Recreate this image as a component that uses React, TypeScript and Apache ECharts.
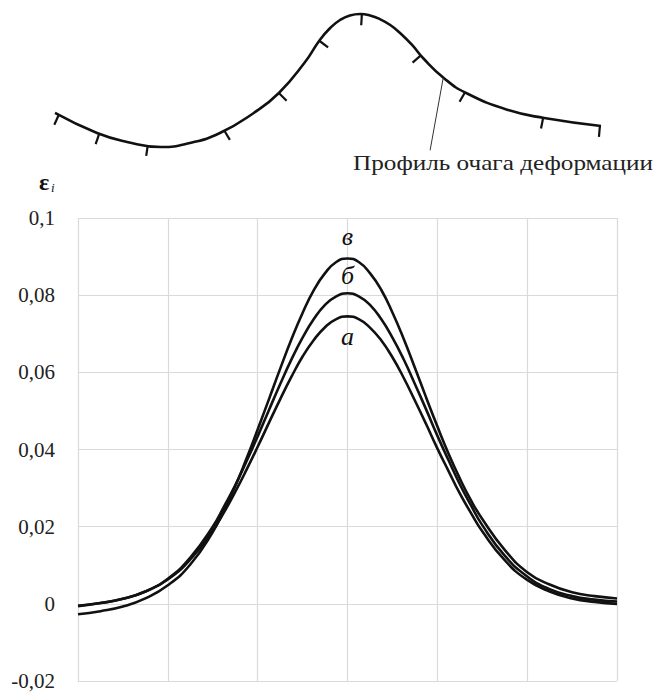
import React, { useEffect, useRef } from "react";
import * as echarts from "echarts";

// Position along the deformation zone (grid cells); finer step around the peak
const positions = [
  0, 0.25, 0.5, 0.75, 1, 1.25, 1.5,
  1.625, 1.75, 1.875, 2, 2.125, 2.25, 2.375, 2.5, 2.625, 2.75, 2.875, 3,
  3.125, 3.25, 3.375, 3.5, 3.625, 3.75, 3.875, 4, 4.125, 4.25, 4.375, 4.5,
  4.75, 5, 5.25, 5.5, 5.75, 6,
];

// Intensity of strain ε_i for the three cases
const strainA = [
  -0.0005, 0.0002, 0.0013, 0.0032, 0.0063, 0.0115, 0.019,
  0.0237, 0.029, 0.0347, 0.0407, 0.0469, 0.053, 0.0588, 0.0641, 0.0684, 0.0717, 0.0738, 0.0745,
  0.0738, 0.0716, 0.0683, 0.0639, 0.0586, 0.0527, 0.0466, 0.0403, 0.0344, 0.0286, 0.0235, 0.0188,
  0.0113, 0.0062, 0.0032, 0.0014, 0.0005, 0.0,
];
const strainB = [
  -0.0006, 0.0002, 0.0013, 0.0032, 0.0065, 0.012, 0.02,
  0.0252, 0.0307, 0.0369, 0.0434, 0.0502, 0.0569, 0.0633, 0.069, 0.0738, 0.0775, 0.0797, 0.0805,
  0.0797, 0.0775, 0.0738, 0.069, 0.0634, 0.057, 0.0504, 0.0436, 0.0372, 0.031, 0.0255, 0.0204,
  0.0125, 0.0071, 0.0038, 0.002, 0.0011, 0.0006,
];
const strainV = [
  -0.0027, -0.0019, -0.0007, 0.0014, 0.0048, 0.0102, 0.0186,
  0.0244, 0.0305, 0.0376, 0.0452, 0.053, 0.0609, 0.0685, 0.0754, 0.0813, 0.0857, 0.0886, 0.0895,
  0.0886, 0.0857, 0.0814, 0.0755, 0.0687, 0.0612, 0.0535, 0.046, 0.0389, 0.0325, 0.0268, 0.022,
  0.014, 0.0082, 0.005, 0.003, 0.002, 0.0014,
];
const curveNames = ["а", "б", "в"];

const yMin = -0.02;
const yMax = 0.1;
const yStep = 0.02;

// Schematic profile of the deformation zone (arbitrary units)
const profileX = [
  0, 0.77, 1.32, 1.94, 2.47, 3.02, 3.64, 4.1, 4.58, 4.85, 5.04, 5.22, 5.4,
  5.59, 5.77, 5.95, 6.14, 6.32, 6.54, 6.74, 7.12, 7.53, 8.3, 8.96, 10,
];
const profileY = [
  0.256, 0.105, 0.038, 0, 0.03, 0.105, 0.256, 0.406, 0.639, 0.805, 0.895,
  0.955, 0.989, 1, 0.989, 0.962, 0.917, 0.857, 0.767, 0.669, 0.519, 0.406,
  0.278, 0.218, 0.158,
];
// Hatch marks along the profile
const hatchX = [0.07, 0.81, 1.7, 3.1, 4.1, 4.84, 5.62, 6.7, 7.51, 8.94, 9.98];
// Leader from the profile to its caption
const leaderX = [7.11, 6.87];
const leaderY = [0.52, -0.025];

const SERIF = '"Liberation Serif", "Times New Roman", "DejaVu Serif", serif';

function profileAt(x: number): number {
  const cx = Math.min(Math.max(x, profileX[0]), profileX[profileX.length - 1]);
  for (let i = 1; i < profileX.length; i++) {
    if (cx <= profileX[i]) {
      const t = (cx - profileX[i - 1]) / (profileX[i] - profileX[i - 1]);
      return profileY[i - 1] + t * (profileY[i] - profileY[i - 1]);
    }
  }
  return profileY[profileY.length - 1];
}

function fmtTick(v: number): string {
  if (Math.abs(v) < 1e-9) return "0";
  return String(+v.toFixed(2)).replace(".", ",");
}

function curveSeries(
  name: string,
  values: number[],
  labelPos: "top" | "bottom",
  labelDist: number
) {
  const peak = values.indexOf(Math.max(...values));
  return {
    name,
    type: "line",
    xAxisIndex: 0,
    yAxisIndex: 0,
    smooth: true,
    symbol: "none",
    lineStyle: { color: "#111", width: 2.6 },
    data: positions.map((x, i) => [x, values[i]]),
    markPoint: {
      symbol: "circle",
      symbolSize: 1,
      silent: true,
      itemStyle: { color: "rgba(0,0,0,0)" },
      data: [
        {
          coord: [positions[peak], values[peak]],
          label: {
            show: true,
            position: labelPos,
            distance: labelDist,
            formatter: name,
            fontFamily: SERIF,
            fontStyle: "italic",
            fontSize: 26,
            color: "#111",
          },
        },
      ],
    },
  };
}

export default function App() {
  const ref = useRef<HTMLDivElement>(null);

  useEffect(() => {
    document.body.style.margin = "0";
    if (!ref.current) return;
    const chart = echarts.init(ref.current, null, { renderer: "svg" });

    chart.setOption({
      animation: false,
      backgroundColor: "#fff",
      grid: [
        { left: 78, right: 46, top: 218, bottom: 11 },
        { left: 55, width: 546, top: 14, height: 146.3 },
      ],
      xAxis: [
        {
          gridIndex: 0,
          type: "value",
          min: 0,
          max: 6,
          interval: 1,
          axisLine: { show: false },
          axisTick: { show: false },
          axisLabel: { show: false },
          splitLine: { show: true, lineStyle: { color: "#dadada", width: 1.2 } },
        },
        { gridIndex: 1, type: "value", min: 0, max: 10, show: false },
      ],
      yAxis: [
        {
          gridIndex: 0,
          type: "value",
          min: yMin,
          max: yMax,
          interval: yStep,
          axisLine: { show: false },
          axisTick: { show: false },
          axisLabel: {
            margin: 23,
            formatter: fmtTick,
            fontFamily: SERIF,
            fontSize: 21,
            color: "#222",
          },
          splitLine: { show: true, lineStyle: { color: "#dadada", width: 1.2 } },
        },
        { gridIndex: 1, type: "value", min: -0.1, max: 1, show: false },
      ],
      series: [
        curveSeries(curveNames[0], strainA, "bottom", 7),
        curveSeries(curveNames[1], strainB, "top", 4),
        curveSeries(curveNames[2], strainV, "top", 9),
        {
          name: "profile",
          type: "line",
          xAxisIndex: 1,
          yAxisIndex: 1,
          smooth: true,
          symbol: "none",
          clip: false,
          lineStyle: { color: "#111", width: 2.6 },
          data: profileX.map((x, i) => [x, profileY[i]]),
        },
        {
          name: "hatch",
          type: "custom",
          xAxisIndex: 1,
          yAxisIndex: 1,
          clip: false,
          data: hatchX.map((x) => [x, profileAt(x)]),
          renderItem: (_params: any, api: any) => {
            const x = api.value(0);
            const p = api.coord([x, profileAt(x)]);
            const a = api.coord([x - 0.08, profileAt(x - 0.08)]);
            const b = api.coord([x + 0.08, profileAt(x + 0.08)]);
            let tx = b[0] - a[0];
            let ty = b[1] - a[1];
            const len = Math.hypot(tx, ty) || 1;
            tx /= len;
            ty /= len;
            return {
              type: "line",
              shape: {
                x1: p[0],
                y1: p[1],
                x2: p[0] - ty * 11,
                y2: p[1] + tx * 11,
              },
              style: { stroke: "#111", lineWidth: 2.2 },
            };
          },
        },
        {
          name: "leader",
          type: "line",
          xAxisIndex: 1,
          yAxisIndex: 1,
          symbol: "none",
          clip: false,
          lineStyle: { color: "#333", width: 1 },
          data: leaderX.map((x, i) => [x, leaderY[i]]),
        },
      ],
      graphic: [
        {
          type: "text",
          x: 353,
          y: 152,
          scaleX: 1.2,
          style: {
            text: "Профиль очага деформации",
            fontFamily: SERIF,
            fontSize: 21,
            fill: "#222",
          },
        },
        {
          type: "text",
          x: 39,
          y: 170,
          style: {
            text: "ε",
            fontFamily: SERIF,
            fontWeight: "bold",
            fontSize: 24,
            fill: "#111",
          },
        },
        {
          type: "text",
          x: 51,
          y: 181,
          style: {
            text: "i",
            fontFamily: SERIF,
            fontStyle: "italic",
            fontSize: 13,
            fill: "#111",
          },
        },
      ],
    });

    return () => chart.dispose();
  }, []);

  return <div ref={ref} style={{ width: 663, height: 692 }} />;
}
